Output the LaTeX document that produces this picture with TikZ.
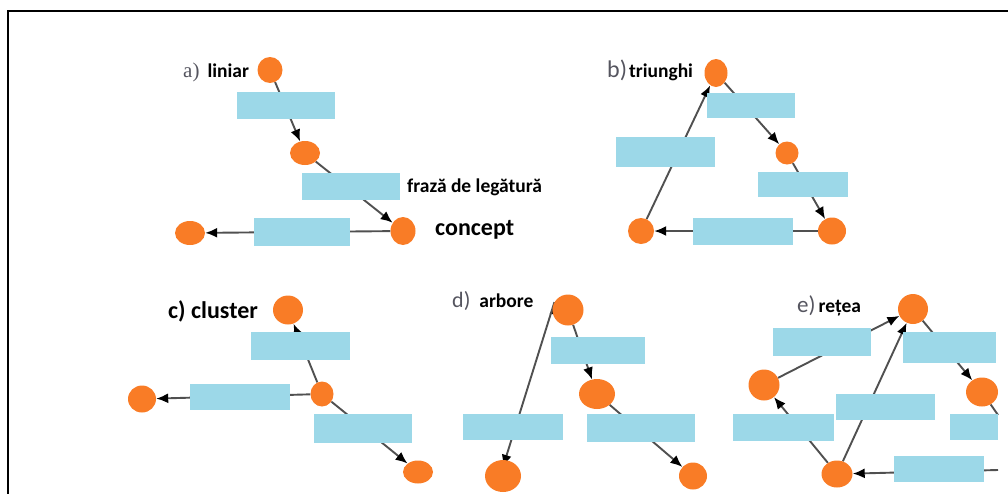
\documentclass[tikz,border=0pt]{standalone}
\usepackage{fontspec}
\setmainfont{Carlito}
\newfontfamily\letterfont{Liberation Serif}
\usetikzlibrary{arrows.meta,positioning,shapes.geometric,backgrounds}
\definecolor{conceptorange}{RGB}{249,124,38}
\definecolor{phraseblue}{RGB}{156,216,232}
\definecolor{linkgray}{RGB}{80,80,80}
\definecolor{labgray}{RGB}{85,85,95}

\begin{document}
\begin{tikzpicture}[x=1pt,y=-1pt,
            concept/.style={ellipse,fill=conceptorange,minimum width=28,minimum height=27,inner sep=0},
            phrase/.style={rectangle,fill=phraseblue,minimum width=98,minimum height=27,inner sep=0},
            lab/.style={anchor=base west,inner sep=0,font=\bfseries\fontsize{19.5}{21}\selectfont},
            rel/.style={draw=linkgray,line width=1.9,-{Latex[length=12pt,width=10pt,color=black]}},
            plain/.style={draw=linkgray,line width=1.9}
          ]
          \clip (0,0) rectangle (1008,493);
          \draw[line width=2.2] (8,500) -- (8,11) -- (1015,11);

          %a) liniar
          \node[lab] (la) at (183,77) {{\letterfont\mdseries\color{labgray}\fontsize{21}{22}\selectfont a)}\hspace{8pt}liniar};
          \node[concept,minimum width=25,minimum height=26] (a1) at (270,70) {};
          \node[phrase] (pa1) at (285.5,105.5) {};
          \node[concept,minimum width=30,minimum height=24] (a2) at (305,153) {};
          \node[phrase] (pa2) at (351,186) {};
          \node[concept,minimum width=25,minimum height=28] (a3) at (403,231) {};
          \node[phrase,minimum width=96,minimum height=28] (pa3) at (302,232) {};
          \node[concept,minimum width=30,minimum height=24] (a4) at (190,233) {};
          \node[lab] (lfr) at (407,192) {frază de legătură};
          \node[lab,font=\bfseries\fontsize{24}{26}\selectfont] (lco) at (435,235) {concept};

          %b) triunghi
          \node[lab] (lb) at (607,77) {{\fontsize{24}{26}\mdseries\selectfont\color{labgray}b)}\hspace{2pt}triunghi};
          \node[concept,minimum width=23,minimum height=28] (b1) at (716,73) {};
          \node[phrase,minimum width=88,minimum height=25] (pb1) at (751,105.5) {};
          \node[concept,minimum width=23,minimum height=23] (b2) at (787,153) {};
          \node[phrase,minimum width=90,minimum height=25] (pb2) at (803,184.5) {};
          \node[concept] (b3) at (832,231) {};
          \node[phrase,minimum width=100] (pb3) at (743,231.5) {};
          \node[concept,minimum width=26,minimum height=26] (b4) at (641,231) {};
          \node[phrase,minimum width=99,minimum height=30] (pb4) at (665.5,152) {};

          %c) cluster
          \node[lab,font=\bfseries\fontsize{24}{26}\selectfont] (lc) at (168,318) {c) cluster};
          \node[concept,minimum width=30,minimum height=29] (c1) at (288,310) {};
          \node[phrase,minimum width=99,minimum height=28] (pc1) at (300.5,346) {};
          \node[concept,minimum width=23,minimum height=25] (c2) at (322,394) {};
          \node[phrase,minimum width=100,minimum height=26] (pc2) at (240,397) {};
          \node[concept] (c3) at (142,399) {};
          \node[phrase,minimum width=98,minimum height=29] (pc3) at (363,428.5) {};
          \node[concept,minimum width=30,minimum height=23] (c4) at (418,472) {};

          %d) arbore
          \node[lab] (ld) at (452,307) {{\fontsize{22}{24}\mdseries\selectfont\color{labgray}d)}\hspace{9pt}arbore};
          \node[concept,minimum width=31,minimum height=31] (d1) at (568,310) {};
          \node[phrase,minimum width=94,minimum height=27] (pd1) at (598,350.5) {};
          \node[concept,minimum width=36,minimum height=30] (d2) at (597,394) {};
          \node[phrase,minimum width=100,minimum height=26] (pd2) at (513,427) {};
          \node[concept,minimum width=36,minimum height=32] (d3) at (503,476) {};
          \node[phrase,minimum width=108,minimum height=28] (pd3) at (641,428) {};
          \node[concept] (d4) at (693,476) {};

          %e) retea
          \node[lab] (le) at (797,312) {{\fontsize{23}{25}\mdseries\selectfont\color{labgray}e)}\hspace{3pt}rețea};
          \node[concept,minimum width=30,minimum height=30] (e1) at (913,309) {};
          \node[phrase,minimum width=98,minimum height=28] (pe1) at (822,342) {};
          \node[concept,minimum width=31,minimum height=31] (e2) at (764,385) {};
          \node[phrase,minimum width=101] (pe2) at (783.5,427.5) {};
          \node[concept,minimum width=31,minimum height=27] (e3) at (837,474) {};
          \node[phrase,minimum width=99,minimum height=26] (pe3) at (885.5,407) {};
          \node[phrase,minimum width=93,minimum height=31] (pe4) at (949.5,347.5) {};
          \node[concept,minimum width=32,minimum height=29] (e5) at (982,392) {};
          \node[phrase,minimum width=48,minimum height=26] (pe5) at (974,426.5) {};
          \node[phrase,minimum width=90,minimum height=26] (pe6) at (939,469) {};
          \coordinate (eout) at (998,415);
          \coordinate (ein) at (998,470);

          %links
          \begin{scope}[on background layer]
          \path[rel]
          (a1) edge (a2)
          (a2) edge (a3)
          (a3) edge (a4)
          (b1) edge (b2)
          (b2) edge (b3)
          (b3) edge (b4)
          (b4) edge (b1)
          (c2) edge (c1)
          (c2) edge (c3)
          (c2) edge (c4)
          (d1) edge (d2)
          (d1.150) edge ([yshift=-7]d3.north)
          (d2) edge (d4)
          (e2) edge (e1)
          (e3) edge (e1)
          (e3) edge (e2)
          (e1) edge (e5)
          ;
          \draw[rel] (ein) -- (e3);
          \draw[plain] (e5) -- (eout);
          \end{scope}
      \end{tikzpicture}
\end{document}
